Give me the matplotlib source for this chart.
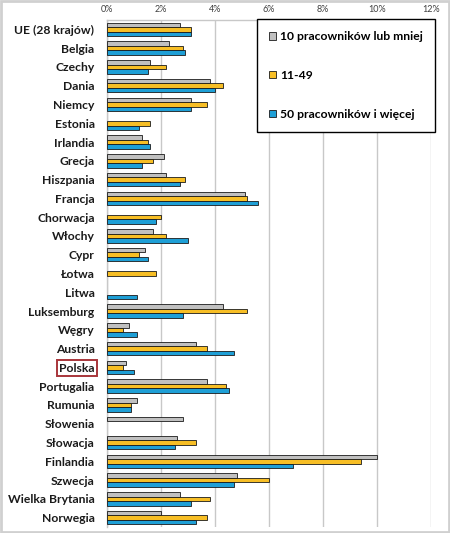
import numpy as np
import matplotlib
matplotlib.use('Agg')
import matplotlib.pyplot as plt
from matplotlib.patches import Patch, Rectangle
from matplotlib.ticker import PercentFormatter

plt.rcParams['font.family'] = ['Lato', 'DejaVu Sans']

countries = ['UE (28 krajów)', 'Belgia', 'Czechy', 'Dania', 'Niemcy', 'Estonia',
             'Irlandia', 'Grecja', 'Hiszpania', 'Francja', 'Chorwacja', 'Włochy',
             'Cypr', 'Łotwa', 'Litwa', 'Luksemburg', 'Węgry', 'Austria', 'Polska',
             'Portugalia', 'Rumunia', 'Słowenia', 'Słowacja', 'Finlandia',
             'Szwecja', 'Wielka Brytania', 'Norwegia']

# None = brak danych
small = [2.7, 2.3, 1.6, 3.8, 3.1, None, 1.3, 2.1, 2.2, 5.1, None, 1.7, 1.4, None,
         None, 4.3, 0.8, 3.3, 0.7, 3.7, 1.1, 2.8, 2.6, 10.0, 4.8, 2.7, 2.0]
medium = [3.1, 2.8, 2.2, 4.3, 3.7, 1.6, 1.5, 1.7, 2.9, 5.2, 2.0, 2.2, 1.2, 1.8,
          None, 5.2, 0.6, 3.7, 0.6, 4.4, 0.9, None, 3.3, 9.4, 6.0, 3.8, 3.7]
large = [3.1, 2.9, 1.5, 4.0, 3.1, 1.2, 1.6, 1.3, 2.7, 5.6, 1.8, 3.0, 1.5, None,
         1.1, 2.8, 1.1, 4.7, 1.0, 4.5, 0.9, None, 2.5, 6.9, 4.7, 3.1, 3.3]

labels = ['10 pracowników lub mniej', '11-49', '50 pracowników i więcej']
colors = ['#C0C0C0', '#F7BE25', '#1E9FD6']


def to_arr(vals):
    return np.array([np.nan if v is None else v for v in vals], dtype=float)


fig = plt.figure(figsize=(4.5, 5.33), dpi=100)
ax = fig.add_axes([107 / 450, 1 - 527 / 533, 324 / 450, 507 / 533])

y = np.arange(len(countries))
h = 0.24
for k, vals in enumerate([small, medium, large]):
    ax.barh(y + (k - 1) * h, to_arr(vals), height=h, color=colors[k],
            edgecolor='#1a1a1a', linewidth=0.6, zorder=3)

ax.set_xlim(0, 12)
ax.set_ylim(len(countries) - 0.5, -0.5)
ax.set_xticks(np.arange(0, 13, 2))
ax.xaxis.set_major_formatter(PercentFormatter(decimals=0))
ax.xaxis.tick_top()
ax.tick_params(axis='x', length=0, pad=4, labelsize=6.5, labelcolor='#404040')
ax.tick_params(axis='y', length=0, pad=9)
ax.set_yticks(y)
ax.set_yticklabels(countries, fontsize=8.7, fontweight='bold', color='#1a1a1a')
ax.grid(axis='x', color='#C8C8C8', linewidth=1.0, zorder=0)
for s in ['right', 'bottom']:
    ax.spines[s].set_visible(False)
for s in ['top', 'left']:
    ax.spines[s].set_color('#C8C8C8')
    ax.spines[s].set_linewidth(1.0)

# ramka wokół "Polska"
for lab in ax.get_yticklabels():
    if lab.get_text() == 'Polska':
        lab.set_bbox(dict(facecolor='none', edgecolor='#A8353A', linewidth=1.4,
                          boxstyle='square,pad=0.2'))

handles = [Patch(facecolor=c, edgecolor='#1a1a1a', linewidth=0.6) for c in colors]
leg = fig.legend(handles, labels, loc='upper right',
                 bbox_to_anchor=(435 / 450, 1 - 19 / 533), borderaxespad=0,
                 prop={'weight': 'bold', 'size': 8.7}, handlelength=0.6,
                 handleheight=0.6, handletextpad=0.3, labelspacing=2.3,
                 borderpad=1.0, fancybox=False, framealpha=1)
leg.get_frame().set_edgecolor('#000000')
leg.get_frame().set_linewidth(1.0)

fig.patches.append(Rectangle((0.002, 0.002), 0.996, 0.996, transform=fig.transFigure,
                             fill=False, edgecolor='#D0D0D0', linewidth=2))

fig.savefig('out.png', dpi=100)
